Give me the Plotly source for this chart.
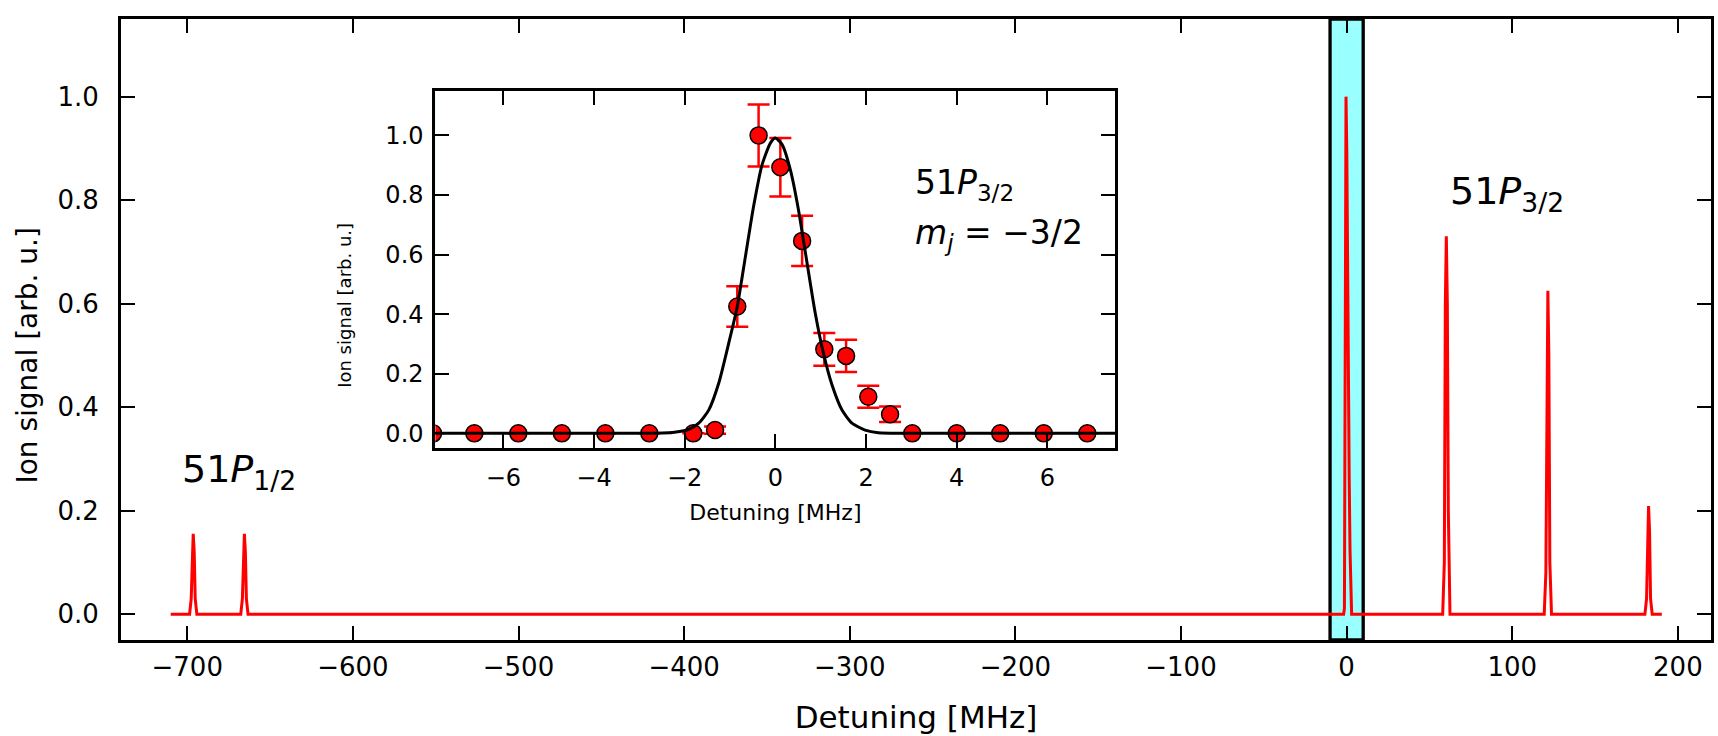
import plotly.graph_objects as go

# ---------------- data ----------------
# main spectrum (detuning MHz, ion signal)
spec_x = [-710, -698.6, -697.6, -697.0, -696.4, -695.8, -695.2, -694.2,
          -667.7, -666.7, -666.1, -665.5, -664.9, -664.3, -663.3,
          -2.8, -1.81, -1.33, -0.84, -0.37, 0.11, 0.59, 1.08, 1.56, 2.05, 2.53, 3.02,
          58.0, 59.0, 59.6, 60.2, 60.8, 61.4, 62.4,
          119.3, 120.3, 120.9, 121.5, 122.1, 122.7, 123.7,
          180.1, 181.1, 181.7, 182.3, 182.9, 183.5, 184.5, 190.3]
spec_y = [0, 0, 0.03, 0.12, 0.155, 0.12, 0.03, 0,
          0, 0.03, 0.12, 0.155, 0.12, 0.03, 0,
          0, 0, 0.011, 0.426, 1.0, 0.893, 0.646, 0.282, 0.260, 0.123, 0.064, 0,
          0, 0.10, 0.60, 0.73, 0.60, 0.20, 0,
          0, 0.08, 0.50, 0.625, 0.50, 0.10, 0,
          0, 0.03, 0.16, 0.209, 0.16, 0.03, 0, 0]

# inset measurement points
ins_x = [-7.55, -6.64, -5.67, -4.71, -3.75, -2.78, -1.81, -1.33, -0.84, -0.37, 0.11,
         0.59, 1.08, 1.56, 2.05, 2.53, 3.02, 4.0, 4.96, 5.92, 6.88]
ins_y = [0, 0, 0, 0, 0, 0, 0, 0.011, 0.426, 1.0, 0.893,
         0.646, 0.282, 0.260, 0.123, 0.064, 0, 0, 0, 0, 0]
ins_err = [None, None, None, None, None, None, None, 0.012, 0.068, 0.104, 0.098,
           0.084, 0.055, 0.054, 0.037, 0.026, None, None, None, None, None]

# inset fit curve
fit_x = [-7.5, -3.0, -2.27, -1.91, -1.69, -1.47, -1.25, -1.03, -0.84, -0.66, -0.48, -0.30,
         -0.11, 0.0, 0.15, 0.33, 0.51, 0.70, 0.88, 1.06, 1.25, 1.47, 1.69, 1.98, 2.27, 3.0, 7.5]
fit_y = [0, 0, 0.003, 0.013, 0.034, 0.078, 0.168, 0.302, 0.426, 0.594, 0.762, 0.898,
         0.974, 0.991, 0.969, 0.885, 0.750, 0.571, 0.403, 0.269, 0.162, 0.078, 0.034, 0.011,
         0.002, 0, 0]

main_xticks = [-700, -600, -500, -400, -300, -200, -100, 0, 100, 200]
yticks = [0.0, 0.2, 0.4, 0.6, 0.8, 1.0]
inset_xticks = [-6, -4, -2, 0, 2, 4, 6]
band = [-10, 10]

FONT = "DejaVu Sans"
CYAN = "#99ffff"

fig = go.Figure()

fig.add_trace(go.Scatter(x=spec_x, y=spec_y, mode="lines",
                         line=dict(color="#ff0000", width=3), xaxis="x", yaxis="y",
                         showlegend=False, hoverinfo="skip"))

fig.add_trace(go.Scatter(x=ins_x, y=ins_y, mode="markers",
                         marker=dict(color="#ff0000", size=17, line=dict(color="black", width=1.5)),
                         error_y=dict(type="data", array=ins_err, visible=True,
                                      color="#ff0000", thickness=2.5, width=11),
                         xaxis="x2", yaxis="y2", showlegend=False))

fig.add_trace(go.Scatter(x=fit_x, y=fit_y, mode="lines",
                         line=dict(color="black", width=3, shape="spline", smoothing=0.6),
                         xaxis="x2", yaxis="y2", showlegend=False))

axis_common = dict(showline=True, linecolor="black", mirror="ticks", ticks="inside",
                   tickcolor="black", showgrid=False, zeroline=False)

fig.update_layout(
    width=1718, height=736,
    margin=dict(l=121, r=4, t=19, b=96),
    paper_bgcolor="white", plot_bgcolor="white",
    font=dict(family=FONT, color="black"),
    xaxis=dict(range=[-740, 220], tickvals=main_xticks, linewidth=3, ticklen=14, tickwidth=1.5,
               tickfont=dict(size=26), ticklabelstandoff=2,
               title=dict(text="Detuning [MHz]", font=dict(size=31), standoff=26),
               **axis_common),
    yaxis=dict(range=[-0.05, 1.15], tickvals=yticks, tickformat=".1f", linewidth=3, ticklen=14,
               tickwidth=1.5, tickfont=dict(size=26), ticklabelstandoff=14,
               **axis_common),
    xaxis2=dict(domain=[0.1977, 0.6254], anchor="y2", range=[-7.5, 7.5], tickvals=inset_xticks,
                linewidth=3, ticklen=14, tickwidth=1.5, tickfont=dict(size=24),
                ticklabelstandoff=6,
                title=dict(text="Detuning [MHz]", font=dict(size=22), standoff=14),
                **axis_common),
    yaxis2=dict(domain=[0.3088, 0.8845], anchor="x2", range=[-0.05, 1.15], tickvals=yticks,
                tickformat=".1f", linewidth=3, ticklen=14, tickwidth=1.5, tickfont=dict(size=24),
                ticklabelstandoff=4,
                **axis_common),
    shapes=[
        dict(type="rect", xref="x", yref="y domain", x0=band[0], x1=band[1], y0=0, y1=1,
             fillcolor=CYAN, line=dict(color="black", width=3.3), layer="below"),
        dict(type="rect", xref="x2 domain", yref="y2 domain", x0=0, x1=1, y0=0, y1=1,
             fillcolor=CYAN, line=dict(width=0), layer="below"),
    ],
    annotations=[
        dict(text="Ion signal [arb. u.]", textangle=-90, x=-0.059, y=0.5, xref="paper", yref="y",
             xanchor="center", yanchor="middle", showarrow=False, font=dict(size=28)),
        dict(text="Ion signal [arb. u.]", textangle=-90, x=-0.133, y=0.431, xref="x2 domain",
             yref="y2", xanchor="center", yanchor="middle", showarrow=False, font=dict(size=18)),
        dict(text="51<i>P</i><sub>3/2</sub>", x=61.5, y=0.812, xref="x", yref="y",
             xanchor="left", yanchor="middle", showarrow=False, font=dict(size=38)),
        dict(text="51<i>P</i><sub>1/2</sub>", x=-704.4, y=0.275, xref="x", yref="y",
             xanchor="left", yanchor="middle", showarrow=False, font=dict(size=38)),
        dict(text="51<i>P</i><sub>3/2</sub>", x=3.04, y=0.834, xref="x2", yref="y2",
             xanchor="left", yanchor="middle", showarrow=False, font=dict(size=33)),
        dict(text="<i>m</i><sub><i>j</i></sub> = \u22123/2", x=3.04, y=0.667, xref="x2", yref="y2",
             xanchor="left", yanchor="middle", showarrow=False, font=dict(size=33)),
    ],
)

fig.write_html("out.html")
